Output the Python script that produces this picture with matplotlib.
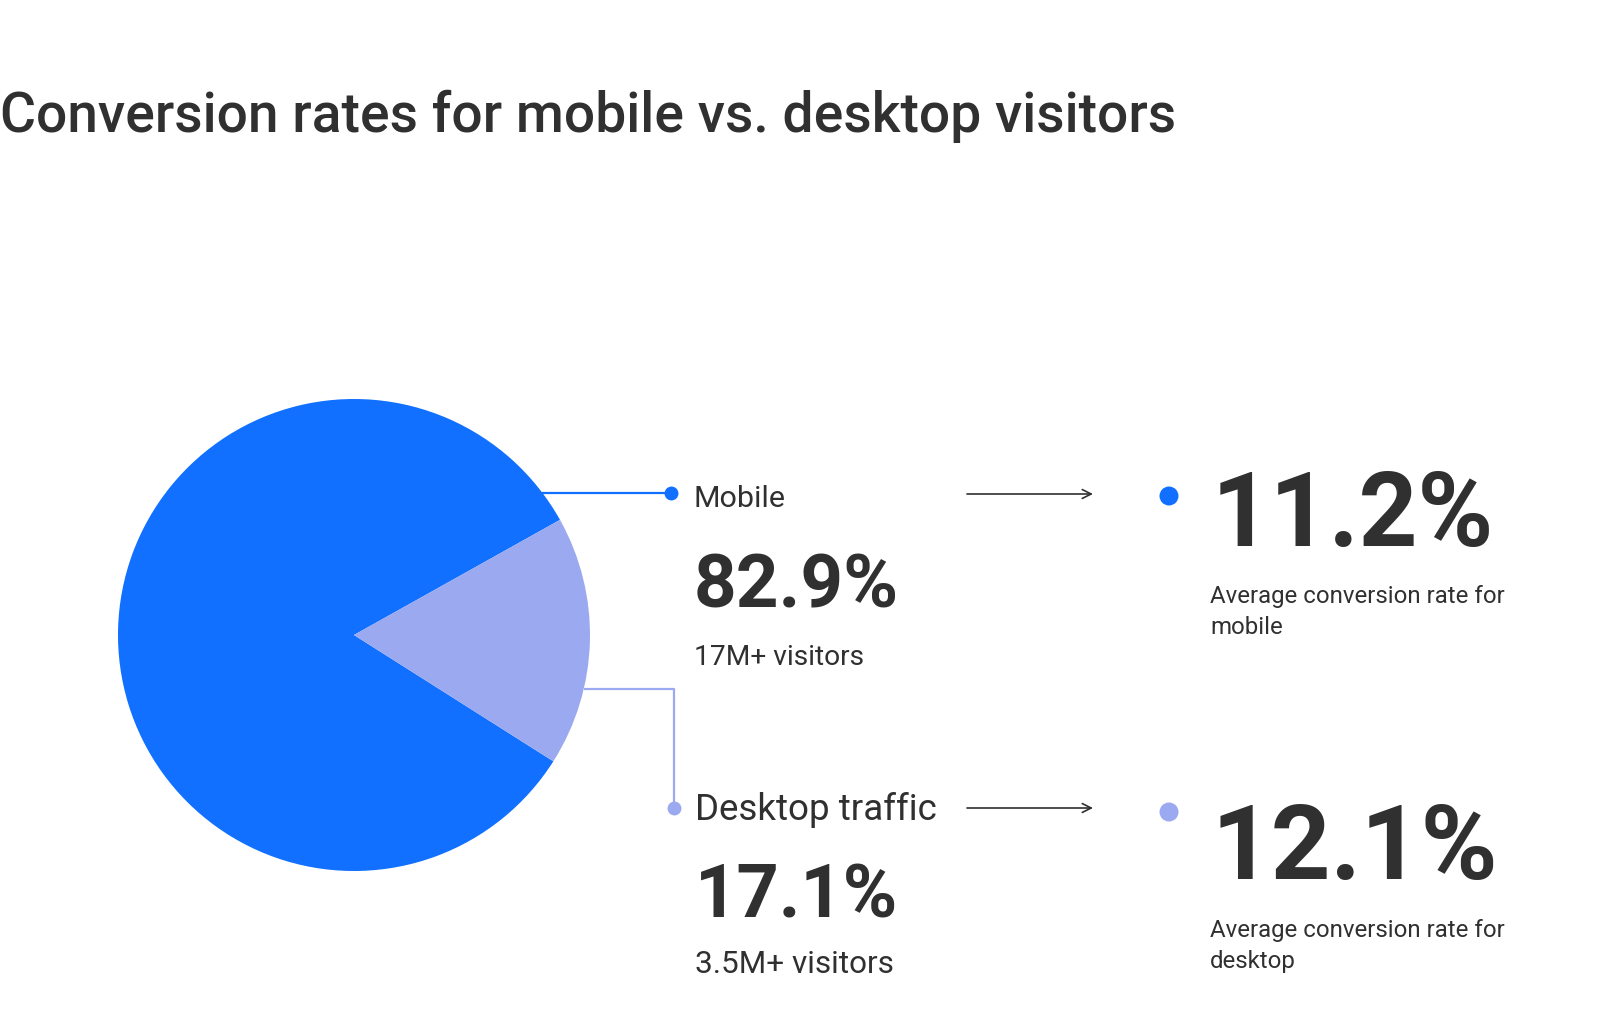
import matplotlib
matplotlib.use("Agg")
import matplotlib.pyplot as plt
from matplotlib import font_manager
from matplotlib.patches import Circle
import numpy as np

# ---------------- data ----------------
title = "Conversion rates for mobile vs. desktop visitors"
segments = ["Mobile", "Desktop traffic"]
shares = [82.9, 17.1]                 # % of visitors
visitors = ["17M+ visitors", "3.5M+ visitors"]
conv_rates = [11.2, 12.1]             # average conversion rate, %
conv_desc = ["mobile", "desktop"]
colors = ["#1170FF", "#9BA9F0"]
TXT = "#303030"

# ---------------- font ----------------
names = {f.name for f in font_manager.fontManager.ttflist}
FONT = "DejaVu Sans"
for cand in ["Liberation Sans Narrow", "Roboto", "Lato", "Open Sans"]:
    if cand in names:
        FONT = cand
        break
FAM = [FONT, "DejaVu Sans"]

W, H = 1600, 1036
fig = plt.figure(figsize=(W / 100, H / 100), dpi=100)
fig.patch.set_facecolor("white")
ax = fig.add_axes([0, 0, 1, 1])


def Y(py):
    return H - py


CX, CY, R = 354, 635, 236
ax.pie(shares, colors=colors, startangle=29.2, counterclock=True,
       center=(CX, Y(CY)), radius=R, wedgeprops=dict(linewidth=0))
ax.set_xlim(0, W)
ax.set_ylim(0, H)
ax.set_aspect("equal")
ax.axis("off")

renderer = fig.canvas.get_renderer()


def put(x, py, s, target_w, cap_px, weight="normal", slack=1.12):
    t = ax.text(x, Y(py), s, ha="left", va="baseline", fontsize=20,
                fontweight=weight, color=TXT, family=FAM)
    w = t.get_window_extent(renderer).width
    size_w = 20 * target_w / w
    size_h = cap_px / (0.71 * 100 / 72)
    t.set_fontsize(min(size_w * slack, size_h))
    return t


def edge_x(py):
    return CX + np.sqrt(R ** 2 - (CY - py) ** 2)


# title
put(0, 132, title, 1179, 44, weight="medium", slack=1.0)

# connectors from the pie
y_m = 493
ax.plot([edge_x(y_m), 671], [Y(y_m)] * 2, color=colors[0], lw=1.6,
        solid_capstyle="butt")
ax.plot(671, Y(y_m), "o", ms=10, color=colors[0], mew=0)
y_d = 689
ax.plot([edge_x(y_d), 674, 674], [Y(y_d), Y(y_d), Y(808)], color=colors[1],
        lw=1.6, solid_capstyle="butt")
ax.plot(674, Y(808), "o", ms=10, color=colors[1], mew=0)

# left text blocks
put(694, 507, segments[0], 82, 22)
put(694, 608, f"{shares[0]}%", 193, 53, weight="bold", slack=1.3)
put(694, 665, visitors[0], 161, 20)

put(695, 820, segments[1], 224, 27, slack=1.08)
put(695, 917, f"{shares[1]}%", 157, 55, weight="bold", slack=1.3)
put(695, 973, visitors[1], 177, 23)

# arrows
for ya in (494, 808):
    ax.annotate("", xy=(1093, Y(ya)), xytext=(967, Y(ya)),
                arrowprops=dict(arrowstyle="->", lw=1.2, color=TXT,
                                mutation_scale=16, shrinkA=0, shrinkB=0))

# right blocks
ax.add_patch(Circle((1169, Y(496)), 9.5, color=colors[0], lw=0))
ax.add_patch(Circle((1169, Y(812)), 9.5, color=colors[1], lw=0))

put(1212, 546, f"{conv_rates[0]}%", 221, 73, weight="bold", slack=1.3)
t1 = put(1210, 603, "Average conversion rate for", 277, 17)
ax.text(1210, Y(634), conv_desc[0], ha="left", va="baseline",
        fontsize=t1.get_fontsize(), color=TXT, family=FAM)

put(1212, 879, f"{conv_rates[1]}%", 221, 74, weight="bold", slack=1.3)
t2 = put(1210, 937, "Average conversion rate for", 277, 17)
ax.text(1210, Y(968), conv_desc[1], ha="left", va="baseline",
        fontsize=t2.get_fontsize(), color=TXT, family=FAM)

fig.savefig("out.png", dpi=100, facecolor="white")
